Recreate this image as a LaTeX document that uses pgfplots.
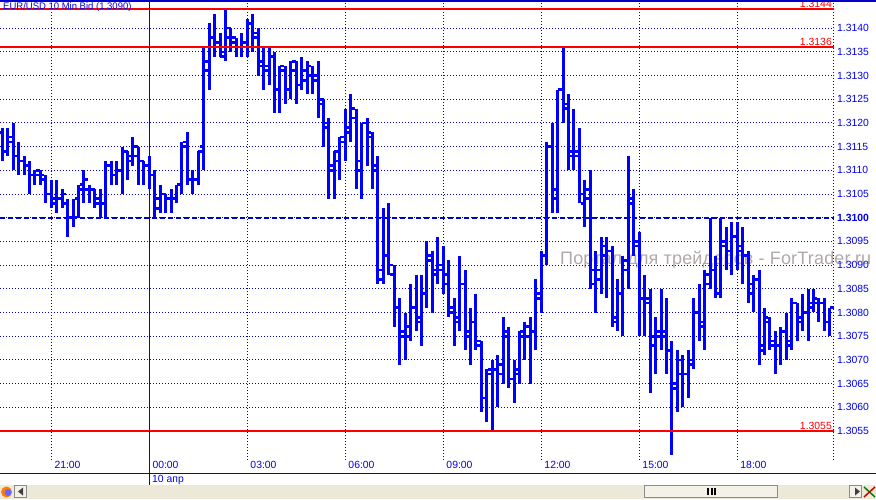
\documentclass[border=0pt]{standalone}
\usepackage{fontspec}
\setmainfont{Liberation Sans}
\usepackage{pgfplots}
\usepackage{pgfplotstable}
\pgfplotsset{compat=1.18}
\definecolor{chartblue}{RGB}{0,0,240}
\definecolor{gridblue}{RGB}{0,0,205}
\definecolor{barbg}{RGB}{236,233,216}
\definecolor{wmgray}{RGB}{178,168,168}

% bar index (0 = 00:00, 10 min each), high, low, open, close
\pgfplotstableread{
i h l o c
-27 1.3119 1.3112 1.3118 1.3114
-26 1.3119 1.3113 1.3114 1.3116
-25 1.3120 1.3110 1.3117 1.3113
-24 1.3116 1.3109 1.3113 1.3112
-23 1.3113 1.3109 1.3112 1.3111
-22 1.3112 1.3105 1.3111 1.3109
-21 1.3110 1.3107 1.3109 1.3109
-20 1.3110 1.3107 1.3110 1.3109
-19 1.3109 1.3103 1.3108 1.3105
-18 1.3108 1.3102 1.3105 1.3104
-17 1.3108 1.3101 1.3103 1.3104
-16 1.3106 1.3102 1.3104 1.3105
-15 1.3104 1.3096 1.3103 1.3100
-14 1.3104 1.3098 1.3100 1.3100
-13 1.3107 1.3100 1.3104 1.3106
-12 1.3110 1.3103 1.3107 1.3108
-11 1.3107 1.3103 1.3106 1.3106
-10 1.3106 1.3102 1.3106 1.3104
-9 1.3106 1.3100 1.3103 1.3103
-8 1.3112 1.3100 1.3103 1.3111
-7 1.3112 1.3107 1.3111 1.3109
-6 1.3112 1.3107 1.3109 1.3110
-5 1.3115 1.3105 1.3110 1.3114
-4 1.3114 1.3108 1.3114 1.3113
-3 1.3117 1.3111 1.3112 1.3113
-2 1.3115 1.3107 1.3115 1.3112
-1 1.3112 1.3107 1.3112 1.3111
0 1.3113 1.3106 1.3111 1.3109
1 1.3110 1.3100 1.3109 1.3104
2 1.3107 1.3101 1.3102 1.3105
3 1.3105 1.3101 1.3105 1.3104
4 1.3106 1.3101 1.3104 1.3104
5 1.3107 1.3103 1.3104 1.3107
6 1.3116 1.3105 1.3107 1.3115
7 1.3118 1.3107 1.3116 1.3108
8 1.3110 1.3105 1.3108 1.3108
9 1.3114 1.3107 1.3108 1.3114
10 1.3136 1.3110 1.3115 1.3133
11 1.3141 1.3127 1.3131 1.3138
12 1.3143 1.3134 1.3136 1.3137
13 1.3139 1.3134 1.3137 1.3134
14 1.3144 1.3133 1.3135 1.3138
15 1.3140 1.3135 1.3140 1.3137
16 1.3138 1.3134 1.3138 1.3136
17 1.3139 1.3134 1.3136 1.3136
18 1.3142 1.3134 1.3137 1.3141
19 1.3143 1.3135 1.3141 1.3139
20 1.3140 1.3130 1.3138 1.3132
21 1.3136 1.3127 1.3133 1.3132
22 1.3136 1.3128 1.3131 1.3134
23 1.3135 1.3122 1.3134 1.3127
24 1.3132 1.3122 1.3127 1.3132
25 1.3132 1.3124 1.3131 1.3127
26 1.3133 1.3125 1.3127 1.3131
27 1.3133 1.3124 1.3133 1.3128
28 1.3134 1.3127 1.3128 1.3129
29 1.3133 1.3126 1.3131 1.3132
30 1.3132 1.3126 1.3130 1.3130
31 1.3133 1.3121 1.3129 1.3124
32 1.3125 1.3115 1.3125 1.3119
33 1.3121 1.3104 1.3120 1.3110
34 1.3114 1.3104 1.3111 1.3114
35 1.3117 1.3108 1.3112 1.3117
36 1.3123 1.3112 1.3116 1.3118
37 1.3126 1.3116 1.3119 1.3123
38 1.3123 1.3106 1.3121 1.3110
39 1.3120 1.3104 1.3112 1.3120
40 1.3121 1.3111 1.3120 1.3118
41 1.3118 1.3106 1.3117 1.3110
42 1.3113 1.3086 1.3111 1.3089
43 1.3102 1.3086 1.3087 1.3092
44 1.3103 1.3088 1.3092 1.3090
45 1.3090 1.3077 1.3088 1.3081
46 1.3083 1.3069 1.3081 1.3075
47 1.3080 1.3070 1.3076 1.3075
48 1.3086 1.3074 1.3077 1.3081
49 1.3088 1.3076 1.3081 1.3079
50 1.3088 1.3073 1.3078 1.3084
51 1.3095 1.3081 1.3084 1.3091
52 1.3093 1.3080 1.3092 1.3089
53 1.3096 1.3086 1.3088 1.3090
54 1.3094 1.3084 1.3089 1.3088
55 1.3091 1.3079 1.3086 1.3081
56 1.3083 1.3073 1.3080 1.3078
57 1.3092 1.3076 1.3079 1.3086
58 1.3089 1.3072 1.3086 1.3076
59 1.3081 1.3069 1.3075 1.3078
60 1.3084 1.3072 1.3078 1.3073
61 1.3074 1.3059 1.3074 1.3062
62 1.3068 1.3057 1.3062 1.3067
63 1.3070 1.3055 1.3068 1.3068
64 1.3071 1.3060 1.3068 1.3069
65 1.3079 1.3065 1.3067 1.3076
66 1.3077 1.3064 1.3075 1.3066
67 1.3070 1.3061 1.3066 1.3068
68 1.3076 1.3065 1.3067 1.3076
69 1.3078 1.3070 1.3075 1.3075
70 1.3079 1.3065 1.3077 1.3076
71 1.3087 1.3072 1.3076 1.3084
72 1.3093 1.3080 1.3083 1.3092
73 1.3116 1.3090 1.3092 1.3115
74 1.3120 1.3101 1.3115 1.3104
75 1.3127 1.3101 1.3106 1.3127
76 1.3136 1.3120 1.3127 1.3124
77 1.3126 1.3110 1.3123 1.3114
78 1.3123 1.3110 1.3113 1.3114
79 1.3119 1.3103 1.3113 1.3105
80 1.3108 1.3098 1.3103 1.3104
81 1.3110 1.3085 1.3106 1.3086
82 1.3093 1.3080 1.3089 1.3089
83 1.3096 1.3084 1.3087 1.3092
84 1.3096 1.3083 1.3094 1.3093
85 1.3094 1.3077 1.3093 1.3079
86 1.3087 1.3076 1.3078 1.3084
87 1.3092 1.3075 1.3084 1.3089
88 1.3113 1.3085 1.3091 1.3103
89 1.3106 1.3092 1.3104 1.3094
90 1.3097 1.3075 1.3095 1.3083
91 1.3088 1.3075 1.3083 1.3082
92 1.3085 1.3063 1.3083 1.3073
93 1.3079 1.3067 1.3075 1.3075
94 1.3085 1.3072 1.3076 1.3076
95 1.3083 1.3067 1.3075 1.3072
96 1.3074 1.3050 1.3072 1.3065
97 1.3072 1.3059 1.3064 1.3070
98 1.3071 1.3060 1.3067 1.3067
99 1.3072 1.3062 1.3067 1.3070
100 1.3083 1.3068 1.3069 1.3080
101 1.3086 1.3074 1.3080 1.3077
102 1.3089 1.3072 1.3078 1.3088
103 1.3100 1.3085 1.3086 1.3089
104 1.3092 1.3083 1.3089 1.3084
105 1.3100 1.3083 1.3084 1.3095
106 1.3098 1.3089 1.3094 1.3093
107 1.3099 1.3088 1.3093 1.3096
108 1.3099 1.3089 1.3096 1.3093
109 1.3098 1.3086 1.3094 1.3092
110 1.3093 1.3082 1.3092 1.3086
111 1.3088 1.3080 1.3084 1.3087
112 1.3089 1.3069 1.3087 1.3072
113 1.3081 1.3071 1.3073 1.3079
114 1.3079 1.3072 1.3078 1.3074
115 1.3076 1.3067 1.3073 1.3073
116 1.3077 1.3069 1.3073 1.3076
117 1.3080 1.3070 1.3076 1.3074
118 1.3083 1.3072 1.3073 1.3082
119 1.3082 1.3074 1.3082 1.3079
120 1.3084 1.3076 1.3078 1.3080
121 1.3085 1.3074 1.3080 1.3082
122 1.3085 1.3080 1.3081 1.3083
123 1.3083 1.3078 1.3082 1.3082
124 1.3083 1.3076 1.3082 1.3078
125 1.3081 1.3075 1.3078 1.3081
}\bars

\begin{document}
\begin{tikzpicture}
\path[use as bounding box] (0,0) rectangle (876pt,-499pt);
\fill[white] (0,0) rectangle (876pt,-499pt);

% watermark sits under the chart
\begin{scope}[x=1pt,y=-1pt]
\node[anchor=west,inner sep=0pt,text=wmgray,font=\fontsize{18}{20}\selectfont\addfontfeature{LetterSpace=1}] at (560,260) {Портал для трейдеров - ForTrader.ru};
\end{scope}

\begin{axis}[
  at={(0pt,-460pt)}, anchor=south west,
  scale only axis, width=834pt, height=458pt,
  xmin=-27.424, xmax=125.77,
  ymin=1.304888, ymax=1.314551,
  clip=false,
  axis line style={draw=none},
  major tick length=0pt,
  xtick={-18,0,18,36,54,72,90,108},
  xticklabels={21:00,00:00,03:00,06:00,09:00,12:00,15:00,18:00},
  extra x ticks={125.6}, extra x tick labels={},
  ytick={1.3055,1.3060,1.3065,1.3070,1.3075,1.3080,1.3085,1.3090,1.3095,1.3100,1.3105,1.3110,1.3115,1.3120,1.3125,1.3130,1.3135,1.3140},
  yticklabels={1.3055,1.3060,1.3065,1.3070,1.3075,1.3080,1.3085,1.3090,1.3095,\textbf{1.3100},1.3105,1.3110,1.3115,1.3120,1.3125,1.3130,1.3135,1.3140},
  ytick pos=right, yticklabel pos=right,
  xtick pos=bottom,
  grid=major,
  major grid style={gridblue,line width=1pt,dash pattern=on 1pt off 2pt},
  x tick label style={anchor=north west,inner sep=0pt,xshift=3pt,yshift=-1pt,text=chartblue,font=\fontsize{10.4}{12}\selectfont},
  y tick label style={anchor=west,inner sep=0pt,xshift=3pt,text=chartblue,font=\fontsize{10.4}{12}\selectfont},
]
% 1.3100 level
\addplot[gridblue,line width=1.6pt,dash pattern=on 5pt off 3pt,forget plot] coordinates {(-27.424,1.3100) (125.77,1.3100)};

% high-low stems
\addplot[draw=none,no markers,forget plot,
  error bars/.cd,y dir=minus,y explicit,error mark=none,
  error bar style={draw=blue,solid,line width=3pt}]
  table[x=i,y=h,y error minus expr=\thisrow{h}-\thisrow{l}] {\bars};
% open ticks, left
\addplot[draw=none,no markers,forget plot,
  error bars/.cd,x dir=minus,x fixed=0.72,error mark=none,
  error bar style={draw=blue,solid,line width=2.6pt}]
  table[x=i,y=o] {\bars};
% close ticks, right
\addplot[draw=none,no markers,forget plot,
  error bars/.cd,x dir=plus,x fixed=0.72,error mark=none,
  error bar style={draw=blue,solid,line width=2.6pt}]
  table[x=i,y=c] {\bars};

% red levels
\addplot[red,line width=2pt,forget plot] coordinates {(-27.424,1.3144) (125.77,1.3144)};
\addplot[red,line width=2pt,forget plot] coordinates {(-27.424,1.3136) (125.77,1.3136)};
\addplot[red,line width=2pt,forget plot] coordinates {(-27.424,1.3055) (125.77,1.3055)};
\end{axis}

\begin{scope}[x=1pt,y=-1pt,font=\fontsize{10.4}{12}\selectfont]
% title and red level labels
\node[anchor=west,inner sep=0pt,text=chartblue,font=\fontsize{9.5}{12}\selectfont] at (3,7) {EUR/USD 10 Min Bid (1.3090)};
\node[anchor=base east,inner sep=0pt,text=red] at (832,7) {1.3144};
\node[anchor=base east,inner sep=0pt,text=red] at (832,45.5) {1.3136};
\node[anchor=base east,inner sep=0pt,text=red] at (832,429.5) {1.3055};
% frame
\fill[gridblue] (0,0) rectangle (876,2);
\draw[chartblue,line width=1pt] (149.3,0) -- (149.3,485);
\draw[chartblue,line width=1pt] (0,473.3) -- (876,473.3);
\node[anchor=west,inner sep=0pt,text=chartblue] at (152,480) {10 апр};
% scroll bar strip
\fill[barbg] (0,485) rectangle (876,499);
\fill[orange] (6.5,492) circle (5.5);
\fill[blue!60!white] (8,492.5) circle (3.5);
\draw[black!45,fill=barbg!60!white] (14.5,485.5) rectangle (26,497.5);
\fill[black!75] (23,487.5) -- (23,495.5) -- (18,491.5) -- cycle;
\draw[black!45,fill=barbg!60!white] (644,485.5) rectangle (777.5,497.5);
\fill[black] (707,488) rectangle (709,495);
\fill[black] (710.5,488) rectangle (712.5,495);
\fill[black] (714,488) rectangle (716,495);
\draw[black!45,fill=barbg!60!white] (849.5,485.5) rectangle (861,497.5);
\fill[black!75] (855,487.5) -- (855,495.5) -- (860,491.5) -- cycle;
\draw[green!50!black,line width=1.5pt] (864,487) -- (875,497);
\draw[red!80!black,line width=1.5pt] (875,487) -- (864,497);
\end{scope}
\end{tikzpicture}
\end{document}
